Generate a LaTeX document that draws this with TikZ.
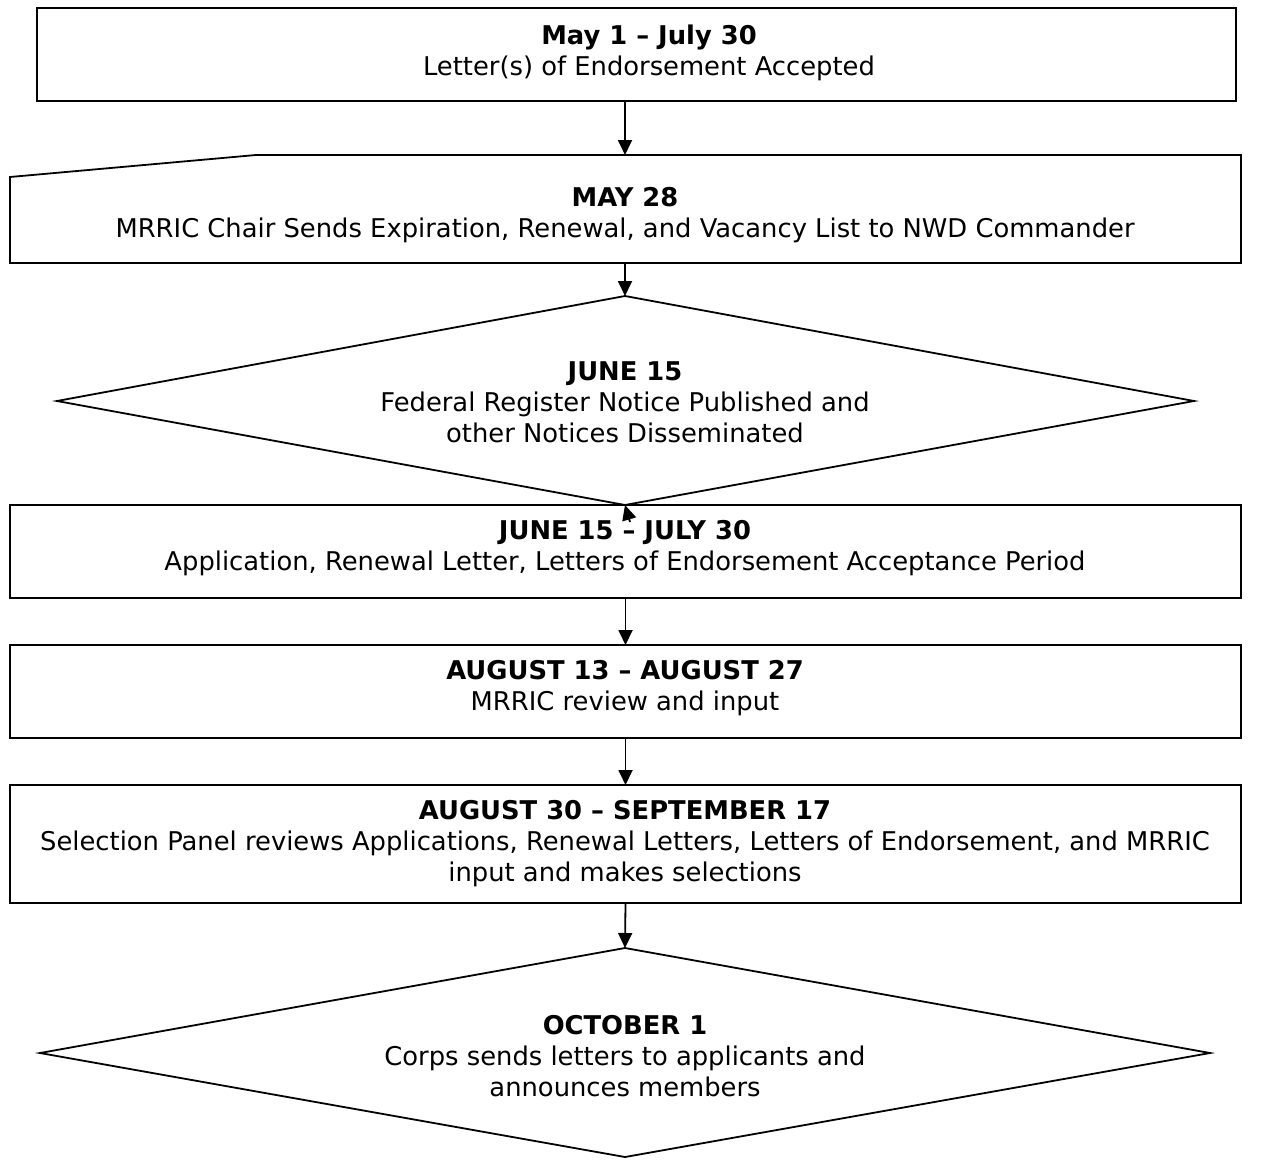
\documentclass[tikz,border=0pt]{standalone}
\usepackage{fontspec}
\setmainfont{DejaVu Sans}
\usetikzlibrary{arrows.meta,calc}
\begin{document}
\begin{tikzpicture}[x=1pt,y=-1pt,
  every node/.style={inner sep=0pt,outer sep=0pt},
  box/.style={draw,line width=1.8pt,rectangle,anchor=north west},
  shp/.style={draw,line width=1.8pt,line join=miter},
  txt/.style={align=center,font=\fontsize{25.8}{31}\selectfont},
  arr/.style={line width=1.8pt,-{Triangle[length=15pt,width=14pt]}}]
\useasboundingbox (0,0) rectangle (1273,1159);
% box 1
\node[box,minimum width=1199pt,minimum height=93pt] (b1) at (37,8) {};
\node[txt] (t1) at (649,53) {\textbf{May 1 – July 30}\\Letter(s) of Endorsement Accepted};
\coordinate (b1s) at (625,101);
% manual input
\coordinate (m1) at (10,177);
\coordinate (m2) at (256,155);
\coordinate (m3) at (1241,155);
\coordinate (m4) at (1241,263);
\coordinate (m5) at (10,263);
\coordinate (mtop) at (625,155);
\coordinate (mbot) at (625,263);
\draw[shp] (m1) -- (m2) -- (m3) -- (m4) -- (m5) -- cycle;
\node[txt] (t2) at (625,215) {\textbf{MAY 28}\\MRRIC Chair Sends Expiration, Renewal, and Vacancy List to NWD Commander};
% diamond 1
\coordinate (d1n) at (625,296);
\coordinate (d1e) at (1194,401);
\coordinate (d1s) at (625,505);
\coordinate (d1w) at (57,401);
\draw[shp] (d1n) -- (d1e) -- (d1s) -- (d1w) -- cycle;
\node[txt] (t3) at (625,402) {\textbf{JUNE 15}\\Federal Register Notice Published and\\other Notices Disseminated};
% box 4
\node[box,minimum width=1231pt,minimum height=93pt] (b4) at (10,505) {};
\node[txt] (t4) at (625,548) {\textbf{JUNE 15 – JULY 30}\\Application, Renewal Letter, Letters of Endorsement Acceptance Period};
% box 5
\node[box,minimum width=1231pt,minimum height=93pt] (b5) at (10,645) {};
\node[txt] (t5) at (625,688) {\textbf{AUGUST 13 – AUGUST 27}\\MRRIC review and input};
% box 6
\node[box,minimum width=1231pt,minimum height=118pt] (b6) at (10,785) {};
\node[txt] (t6) at (625,844) {\textbf{AUGUST 30 – SEPTEMBER 17}\\Selection Panel reviews Applications, Renewal Letters, Letters of Endorsement, and MRRIC\\input and makes selections};
% diamond 2
\coordinate (d2n) at (625,948);
\coordinate (d2e) at (1210,1053);
\coordinate (d2s) at (625,1157);
\coordinate (d2w) at (40,1053);
\draw[shp] (d2n) -- (d2e) -- (d2s) -- (d2w) -- cycle;
\node[txt] (t7) at (625,1056) {\textbf{OCTOBER 1}\\Corps sends letters to applicants and\\announces members};
% connectors
\draw[arr] (b1s) -- (mtop);
\draw[arr] (mbot) -- (d1n);
\coordinate (up) at ($(d1s)+(5,17)$);
\draw[arr] (up) -- (d1s);
\draw[arr] (b4.south) -- (b5.north);
\draw[arr] (b5.south) -- (b6.north);
\draw[arr] (b6.south) -- (d2n);
\end{tikzpicture}
\end{document}
